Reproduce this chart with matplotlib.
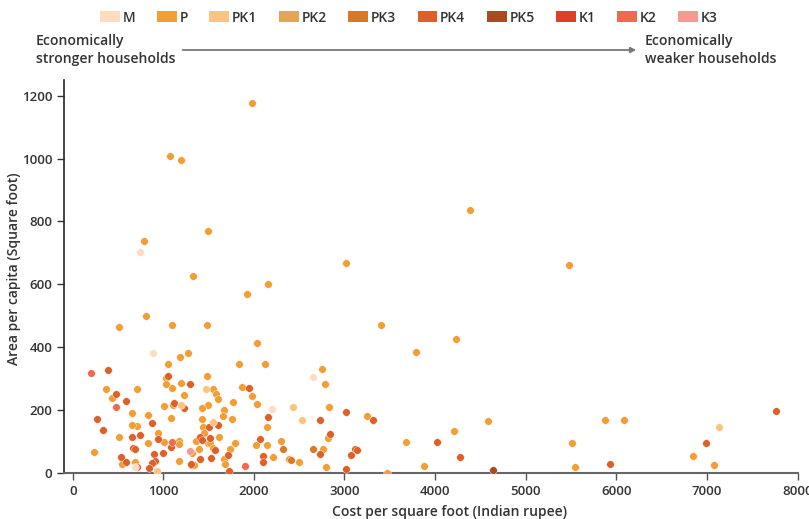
import numpy as np
import matplotlib
matplotlib.use('Agg')
import matplotlib.pyplot as plt
from matplotlib.patches import Patch, FancyArrowPatch

plt.rcParams['font.family'] = ['Open Sans', 'DejaVu Sans']

# legend groups and colours
groups = ['M', 'P', 'PK1', 'PK2', 'PK3', 'PK4', 'PK5', 'K1', 'K2', 'K3']
colors = ['#FDDCBF', '#F39D35', '#FCC47F', '#E3A656', '#DB7826',
          '#DF5F28', '#A84B22', '#DC4026', '#F06A50', '#F59A92']

# cost per square foot (rupee), area per capita (square foot)
p_cost = [1979, 1077, 1199, 1497, 787, 1331, 2156, 3017, 4385, 5474,
          1921, 806, 506, 1092, 1487, 2030, 3400,
          1274, 1180, 1050, 1032, 1481, 2128, 1834,
          366, 438, 712, 1033, 1095, 1200, 1231, 1109, 1003,
          1548, 1582, 1604, 1488, 1426, 1768, 1869, 1977, 2035,
          2750, 2785, 2834, 3249, 2145, 2142, 2025, 2207, 2297,
          2384, 2501, 2766, 2798, 2818, 3470,
          1665, 1662, 1760, 1427, 1441, 1453, 1491, 1520, 1550, 1619,
          1791, 1736, 1670, 1677, 1389, 1366, 1313, 1307, 1340,
          1174, 1174, 1173, 1080, 1010, 938, 830, 831, 684,
          711, 654, 652, 508, 541, 238,
          3790, 4226, 3674, 3880, 4207, 4584, 5507, 5544, 5879, 6085, 6842, 7081]
p_area = [1176, 1007, 995, 769, 738, 625, 600, 668, 835, 662,
          569, 500, 463, 469, 469, 412, 469,
          381, 369, 345, 303, 307, 347, 345,
          268, 239, 268, 281, 270, 284, 246, 214, 213,
          268, 249, 234, 217, 205, 226, 273, 244, 220,
          329, 281, 210, 179, 144, 88, 87, 49, 100,
          45, 33, 75, 17, 109, 0,
          199, 180, 170, 172, 145, 127, 93, 93, 80, 115,
          96, 75, 45, 28, 75, 100, 64, 24, 23,
          100, 91, 37, 175, 97, 125, 183, 93, 34,
          149, 189, 151, 114, 27, 67,
          385, 424, 98, 21, 132, 163, 93, 17, 168, 169, 52, 23]

pk4_cost = [1054, 393, 476, 593, 1297, 1116, 1230, 1942, 3014, 3315,
            2731, 2153, 2063, 2096, 2103, 2727, 2841, 3021, 3067, 3118,
            3141, 1605, 1505, 1407, 1429, 1512, 1574, 1716, 1729, 1527,
            1404, 1309, 1086, 998, 942, 874, 898, 913, 880, 841,
            714, 740, 658, 661, 684, 530, 590, 265, 331,
            4023, 4275, 5926, 6993, 7768]
pk4_area = [308, 326, 250, 229, 281, 222, 205, 269, 194, 169,
            169, 176, 108, 53, 34, 61, 123, 11, 56, 77,
            71, 152, 144, 113, 104, 109, 72, 55, 4, 46,
            45, 28, 81, 62, 106, 157, 60, 36, 31, 14,
            19, 119, 113, 80, 75, 51, 33, 172, 135,
            99, 50, 27, 94, 197]

pk3_cost = [2319, 2415, 2651]
pk3_area = [75, 40, 76]

m_cost = [743, 884, 2200, 2648, 687]
m_area = [701, 380, 203, 305, 17]

pk1_cost = [1194, 1470, 1547, 2437, 2532, 934, 7136]
pk1_area = [214, 268, 161, 209, 169, 7, 146]

k2_cost = [206, 474, 1094, 1902]
k2_area = [318, 209, 97, 22]

k3_cost = [1290]
k3_area = [70]

pk5_cost = [4636]
pk5_area = [8]

series = [('P', p_cost, p_area), ('PK4', pk4_cost, pk4_area),
          ('PK3', pk3_cost, pk3_area), ('M', m_cost, m_area),
          ('PK1', pk1_cost, pk1_area), ('K2', k2_cost, k2_area),
          ('K3', k3_cost, k3_area), ('PK5', pk5_cost, pk5_area)]

fig = plt.figure(figsize=(8.09, 5.19), dpi=100)
ax = fig.add_axes([0.0791, 0.0892, 0.9067, 0.7567])

for name, xs, ys in series:
    c = colors[groups.index(name)]
    ax.scatter(xs, ys, s=30, color=c, edgecolors='white', linewidths=0.3, zorder=3)

ax.set_xlim(-96, 8000)
ax.set_ylim(0, 1250)
ax.set_xticks(np.arange(0, 8001, 1000))
ax.set_yticks(np.arange(0, 1201, 200))
for s in ['top', 'right']:
    ax.spines[s].set_visible(False)
ax.spines['left'].set_color('#222222')
ax.spines['bottom'].set_color('#666666')
ax.spines['left'].set_linewidth(1.2)
ax.spines['bottom'].set_linewidth(1.5)
ax.tick_params(axis='both', length=5, width=1, colors='#333333', labelsize=9.5)
ax.tick_params(axis='x', color='#555555')
for lab in ax.get_xticklabels() + ax.get_yticklabels():
    lab.set_fontweight('semibold')

ax.set_xlabel('Cost per square foot (Indian rupee)', fontsize=10,
              fontweight='semibold', color='#333333')
ax.xaxis.set_label_coords(0.526, -0.083)
ax.xaxis.label.set_va('top')
ax.set_ylabel('Area per capita (Square foot)', fontsize=10,
              fontweight='semibold', color='#333333')
ax.yaxis.set_label_coords(-0.068, 0.52)
ax.yaxis.label.set_va('center')

handles = [Patch(facecolor=c, edgecolor='none') for c in colors]
leg = fig.legend(handles, groups, ncol=10, loc='center left',
                 bbox_to_anchor=(100 / 809, 1 - 17.5 / 519), frameon=False,
                 handlelength=1.43, handleheight=0.86, handletextpad=0.2,
                 columnspacing=1.55, borderaxespad=0, borderpad=0,
                 prop={'size': 10, 'weight': 'semibold'})
for t in leg.get_texts():
    t.set_color('#333333')

fig.text(36 / 809, 1 - 50 / 519, 'Economically\nstronger households', fontsize=10.1,
         fontweight='semibold', color='#333333', va='center', ha='left',
         linespacing=1.35)
fig.text(645 / 809, 1 - 50 / 519, 'Economically\nweaker households', fontsize=10.1,
         fontweight='semibold', color='#333333', va='center', ha='left',
         linespacing=1.35)
fig.add_artist(FancyArrowPatch(
    (180 / 809, 1 - 50 / 519), (639 / 809, 1 - 50 / 519),
    transform=fig.transFigure, arrowstyle='-|>', mutation_scale=8,
    color='#777777', linewidth=1.3))

fig.savefig('out.png', dpi=100)
